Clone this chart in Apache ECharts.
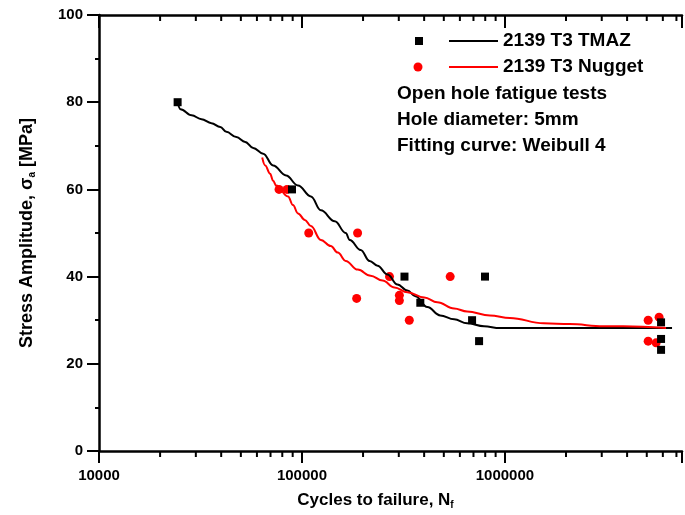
<!DOCTYPE html>
<html>
<head>
<meta charset="utf-8">
<script src="https://cdn.jsdelivr.net/npm/echarts@6/dist/echarts.min.js"></script>
<style>
  html, body { margin: 0; padding: 0; background: #fff; }
  #chart { width: 685px; height: 515px; }
</style>
</head>
<body>
<div id="chart"></div>
<script>
// ---- Data ----
const tmazPoints = [
  [24400, 80], [89300, 60], [320000, 40], [383000, 34], [798000, 40],
  [689000, 30], [746000, 25.2], [5880000, 29.5], [5880000, 25.7], [5880000, 23.2]
];
const nuggetPoints = [
  [77100, 60], [84400, 60], [108000, 50], [188000, 50], [186000, 35],
  [270000, 40], [302000, 35.7], [302000, 34.5], [338000, 30], [537500, 40],
  [5080000, 30], [5750000, 30.7], [5080000, 25.2], [5560000, 24.8]
];
const tmazCurve = [
  [24400, 80], [25200, 78.4], [28600, 77.0], [32000, 76.1], [35800, 75.2],
  [39600, 74.3], [42400, 73.2], [47500, 72.0], [52500, 70.9], [57500, 69.5],
  [64400, 68.2], [72100, 65.5], [83500, 63.2], [95600, 60.9], [110700, 58.4],
  [123900, 55.2], [145100, 52.7], [164300, 50.0], [171900, 48.4], [194700, 46.1],
  [215400, 43.6], [235800, 42.5], [264000, 40.5], [295500, 38.2], [330800, 36.8],
  [362200, 35.5], [414700, 33.0], [480200, 31.1], [562300, 30.2], [651300, 29.3],
  [789000, 28.6], [945000, 28.2], [1282000, 28.2], [5138000, 28.2], [6660000, 28.2]
];
const nuggetCurve = [
  [63700, 67.3], [65900, 65.5], [69700, 63.6], [72100, 62.0], [74600, 60.9],
  [85400, 58.4], [90300, 56.4], [95600, 54.5], [103400, 53.0], [110700, 51.6],
  [123900, 48.4], [138700, 47.0], [150200, 45.5], [164300, 43.6], [188200, 41.6],
  [217900, 40.2], [249500, 39.1], [285700, 37.5], [330800, 36.4], [400900, 35.2],
  [464200, 34.1], [562300, 32.7], [651300, 32.0], [844000, 31.1], [1058000, 30.5],
  [1553000, 29.3], [2082000, 29.1], [3057000, 28.6], [3831000, 28.6], [6223000, 28.2]
];
const seriesNames = ['2139 T3 TMAZ', '2139 T3 Nugget'];
const noteLines = ['Open hole fatigue tests', 'Hole diameter: 5mm', 'Fitting curve: Weibull 4'];
const xMin = 10000, xMax = 7457000;
const yTicks = [0, 20, 40, 60, 80, 100];

// minor tick values of the log axis (2..9 x each decade)
const minorTicks = [];
[1e4, 1e5, 1e6].forEach(d => { for (let k = 2; k <= 9; k++) { if (k * d < xMax) minorTicks.push(k * d); } });

const FONT = 'Liberation Sans';
const chart = echarts.init(document.getElementById('chart'), null, { renderer: 'canvas' });

const isPow10 = v => { const l = Math.log10(v); return Math.abs(l - Math.round(l)) < 1e-9; };
const txt = (text, x, y) => ({ type: 'text', style: { text, x, y, verticalAlign: 'middle', fill: '#000',
  font: 'bold 19px "' + FONT + '"' } });

const option = {
  animation: false,
  backgroundColor: '#fff',
  textStyle: { fontFamily: FONT },
  grid: { left: 99, top: 15, right: 0, bottom: 60, containLabel: false },
  xAxis: [
    {
      type: 'log', logBase: 10, min: xMin, max: xMax, position: 'bottom',
      axisLine: { lineStyle: { color: '#000', width: 2.5 } },
      axisTick: { show: true, inside: false, length: 12, lineStyle: { color: '#000', width: 2 } },
      axisLabel: { color: '#000', fontFamily: FONT, fontWeight: 'bold', fontSize: 15, margin: 17,
        formatter: v => isPow10(v) ? String(Math.round(v)) : '' },
      splitLine: { show: false },
      name: 'Cycles to failure, N{sub|f}',
      nameLocation: 'middle', nameGap: 39,
      nameTextStyle: { color: '#000', fontFamily: FONT, fontWeight: 'bold', fontSize: 17, padding: [0, 30, 0, 0],
        rich: { sub: { fontSize: 10, fontWeight: 'bold', fontFamily: FONT, padding: [10, 0, 0, 0] } } }
    },
    {
      type: 'log', logBase: 10, min: xMin, max: xMax, position: 'top',
      axisLine: { lineStyle: { color: '#000', width: 2.5 } },
      axisTick: { show: true, inside: true, length: 13, lineStyle: { color: '#000', width: 2 } },
      axisLabel: { show: false },
      splitLine: { show: false }
    }
  ],
  yAxis: {
    type: 'value', min: 0, max: 100, interval: 20,
    axisLine: { show: true, lineStyle: { color: '#000', width: 2.5 } },
    axisTick: { show: true, inside: false, length: 12, lineStyle: { color: '#000', width: 2 } },
    minorTick: { show: true, splitNumber: 2, length: 4, lineStyle: { color: '#000', width: 2 } },
    axisLabel: { color: '#000', fontFamily: FONT, fontWeight: 'bold', fontSize: 15, margin: 16,
      formatter: v => yTicks.indexOf(v) >= 0 ? String(v) : '' },
    splitLine: { show: false },
    name: 'Stress Amplitude, σ{sub|a} [MPa]',
    nameLocation: 'middle', nameGap: 62,
    nameTextStyle: { color: '#000', fontFamily: FONT, fontWeight: 'bold', fontSize: 18,
      rich: { sub: { fontSize: 10, fontWeight: 'bold', fontFamily: FONT, padding: [10, 0, 0, 0] } } }
  },
  series: [
    {
      type: 'custom', xAxisIndex: 0, silent: true, clip: false,
      data: minorTicks.map(v => [v, 0]),
      renderItem: (params, api) => {
        const v = api.value(0);
        const b = api.coord([v, 0]);
        const t = api.coord([v, 100]);
        return { type: 'group', children: [
          { type: 'line', shape: { x1: b[0], y1: b[1], x2: b[0], y2: b[1] + 6 }, style: { stroke: '#000', lineWidth: 2 } },
          { type: 'line', shape: { x1: t[0], y1: t[1], x2: t[0], y2: t[1] + 6 }, style: { stroke: '#000', lineWidth: 2 } }
        ] };
      }
    },
    {
      name: seriesNames[1], type: 'scatter', data: nuggetPoints, symbol: 'circle', symbolSize: 9,
      itemStyle: { color: '#ff0000', opacity: 1 }, z: 3
    },
    {
      name: seriesNames[0], type: 'scatter', data: tmazPoints, symbol: 'rect', symbolSize: 8,
      itemStyle: { color: '#000', opacity: 1 }, z: 4
    },
    {
      name: seriesNames[0], type: 'line', data: tmazCurve, showSymbol: false, symbol: 'none',
      smooth: 0.4, smoothMonotone: 'x',
      lineStyle: { color: '#000', width: 2 }, z: 5
    },
    {
      name: seriesNames[1], type: 'line', data: nuggetCurve, showSymbol: false, symbol: 'none',
      smooth: 0.4, smoothMonotone: 'x',
      lineStyle: { color: '#ff0000', width: 2 }, z: 6
    }
  ],
  graphic: [
    { type: 'rect', shape: { x: 415, y: 37, width: 8, height: 8 }, style: { fill: '#000' } },
    { type: 'line', shape: { x1: 449, y1: 41, x2: 498, y2: 41 }, style: { stroke: '#000', lineWidth: 2 } },
    txt(seriesNames[0], 503, 41),
    { type: 'circle', shape: { cx: 418, cy: 67, r: 4.5 }, style: { fill: '#ff0000' } },
    { type: 'line', shape: { x1: 449, y1: 67, x2: 498, y2: 67 }, style: { stroke: '#ff0000', lineWidth: 2 } },
    txt(seriesNames[1], 503, 67),
    txt(noteLines[0], 397, 94),
    txt(noteLines[1], 397, 120),
    txt(noteLines[2], 397, 146)
  ]
};
chart.setOption(option);
</script>
</body>
</html>
